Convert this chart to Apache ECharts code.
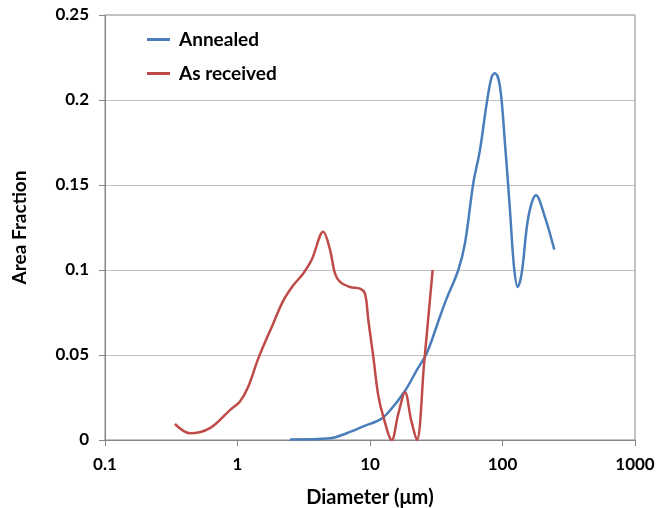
<!DOCTYPE html>
<html>
<head>
<meta charset="utf-8">
<script src="https://cdn.jsdelivr.net/npm/echarts@6/dist/echarts.min.js"></script>
<style>html,body{margin:0;padding:0;background:#fff}#c{width:671px;height:508px}</style>
</head>
<body>
<div id="c"></div>
<script>
const seriesNames = ['Annealed', 'As received'];
const annealedX = [2.49, 5.0, 6.67, 8.9, 11.9, 13.7, 18.4, 22.5, 26.8, 33.7, 37.9, 46.4, 52.1, 60.2, 67.6, 76.0, 82.9, 87.8, 95.7, 104.4, 113.9, 122.1, 130.2, 139.6, 156.6, 179, 209.4, 246];
const annealedY = [0.0003, 0.001, 0.004, 0.008, 0.012, 0.016, 0.029, 0.041, 0.051, 0.0725, 0.0833, 0.100, 0.1157, 0.151, 0.1706, 0.198, 0.2137, 0.2157, 0.208, 0.1745, 0.135, 0.102, 0.090, 0.098, 0.131, 0.144, 0.131, 0.112];
const receivedX = [0.337, 0.438, 0.62, 0.877, 1.04, 1.2, 1.436, 1.862, 2.217, 2.637, 3.137, 3.63, 4.44, 4.99, 5.44, 5.94, 7.06, 8.41, 9.17, 9.71, 10.59, 11.5, 12.6, 14.6, 16.3, 18.4, 20.4, 22.6, 25.6, 29.7];
const receivedY = [0.0094, 0.004, 0.007, 0.0176, 0.0225, 0.031, 0.048, 0.0686, 0.082, 0.091, 0.098, 0.106, 0.1225, 0.112, 0.098, 0.093, 0.090, 0.089, 0.086, 0.0706, 0.049, 0.027, 0.0137, 0.0, 0.015, 0.028, 0.012, 0.0, 0.045, 0.1];
const xTicks = [0.1, 1, 10, 100, 1000];
const yTicks = [0, 0.05, 0.1, 0.15, 0.2, 0.25];

const zip = (xs, ys) => xs.map((x, i) => [x, ys[i]]);
const FONT = 'Lato';
const chart = echarts.init(document.getElementById('c'));
chart.setOption({
  animation: false,
  backgroundColor: '#fff',
  grid: { left: 105, right: 36, top: 15, bottom: 68, show: true, borderColor: '#868686', borderWidth: 1,
          containLabel: false, outerBoundsMode: 'none' },
  legend: {
    orient: 'vertical', left: 147, top: 30, padding: 0, itemWidth: 23, itemHeight: 3, itemGap: 15,
    icon: 'rect',
    textStyle: { fontFamily: FONT, fontWeight: 'bold', fontSize: 19, color: '#000', padding: [0, 0, 0, 4] },
    data: seriesNames
  },
  xAxis: {
    type: 'log', logBase: 10, min: xTicks[0], max: xTicks[xTicks.length - 1],
    name: 'Diameter (\u03bcm)', nameLocation: 'middle', nameGap: 48,
    nameTextStyle: { fontFamily: FONT, fontWeight: 'bold', fontSize: 20, color: '#000' },
    axisLine: { lineStyle: { color: '#868686' } },
    axisTick: { show: true, length: 6, lineStyle: { color: '#868686' } },
    minorTick: { show: false },
    splitLine: { show: false },
    axisLabel: { fontFamily: FONT, fontWeight: 'bold', fontSize: 17, color: '#000', margin: 16,
      formatter: v => String(+(+v).toPrecision(3)) }
  },
  yAxis: {
    type: 'value', min: yTicks[0], max: yTicks[yTicks.length - 1], interval: 0.05,
    name: 'Area Fraction', nameLocation: 'middle', nameGap: 76,
    nameTextStyle: { fontFamily: FONT, fontWeight: 'bold', fontSize: 19, color: '#000' },
    axisLine: { show: true, lineStyle: { color: '#868686' } },
    axisTick: { show: true, length: 6, lineStyle: { color: '#868686' } },
    splitLine: { show: true, lineStyle: { color: '#c0c0c0', width: 1 } },
    axisLabel: { fontFamily: FONT, fontWeight: 'bold', fontSize: 17, color: '#000', margin: 16,
      formatter: v => String(+(+v).toFixed(2)) }
  },
  series: [
    { name: seriesNames[0], type: 'line', data: zip(annealedX, annealedY), showSymbol: false, smooth: 0.35,
      lineStyle: { color: '#4a7ebb', width: 2.5 }, itemStyle: { color: '#4a7ebb' } },
    { name: seriesNames[1], type: 'line', data: zip(receivedX, receivedY), showSymbol: false, smooth: 0.35,
      lineStyle: { color: '#be4b48', width: 2.5 }, itemStyle: { color: '#be4b48' } }
  ]
});
</script>
</body>
</html>
